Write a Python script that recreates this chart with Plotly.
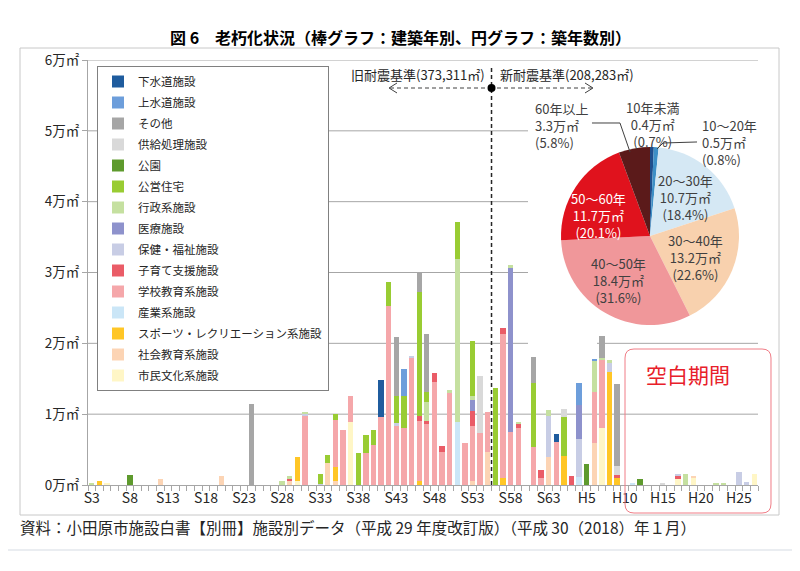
import plotly.graph_objects as go

# categories: construction year, S3 (1928) .. H27 (2015)
years = [f"S{n}" for n in range(3, 64)] + [f"H{n}" for n in range(1, 28)]
tick_years = years[::5]

# floor area by facility type, unit: 万㎡ (only non-zero years)
shimin = {"S5": 0.02, "S30": 0.06, "S37": 0.89, "H7": 0.80, "H17": 0.09, "H19": 0.11, "H27": 0.155}
shakai = {"S12": 0.08, "S20": 0.13, "S29": 0.06, "S34": 0.31, "S35": 0.06, "S53": 0.05, "S55": 0.47,
          "S63": 0.39, "H6": 0.59, "H19": 0.02}
sports = {"S4": 0.06, "S30": 0.33, "S35": 0.20, "S46": 0.05, "S57": 0.10, "H2": 0.41, "H8": 1.59, "H9": 0.095}
sangyo = {"S51": 0.885, "H4": 0.12, "H11": 0.015}
gakko = {"S31": 0.98, "S35": 0.66, "S36": 0.77, "S37": 0.36, "S39": 0.45, "S40": 0.565, "S41": 0.965,
         "S42": 2.53, "S43": 0.84, "S44": 0.80, "S45": 1.79, "S46": 0.86, "S47": 0.86, "S48": 1.45,
         "S49": 0.47, "S50": 1.295, "S52": 0.60, "S53": 0.78, "S54": 0.73, "S55": 0.565, "S57": 2.03,
         "S58": 0.75, "S59": 0.80, "S61": 0.54, "S62": 0.095, "H1": 0.61, "H6": 0.73, "H7": 0.965}
kosodate = {"S29": 0.03, "S46": 0.07, "S47": 0.04, "S48": 0.135, "S49": 0.08, "S53": 0.22, "S57": 0.09,
            "S59": 0.07, "S62": 0.115, "H3": 0.13, "H9": 0.05, "H17": 0.04}
hoken = {"S31": 0.02, "S33": 0.02, "S43": 0.03, "S45": 0.03, "S63": 0.59, "H4": 0.525, "H8": 0.13,
         "H17": 0.03, "H25": 0.18, "H26": 0.04}
iryo = {"S53": 0.155, "S58": 2.32, "H4": 0.485}
gyosei = {"S3": 0.03, "S28": 0.06, "S29": 0.04, "S31": 0.03, "S47": 0.27, "S50": 0.04, "S51": 2.30,
          "S53": 0.055, "S58": 0.03, "S59": 0.02, "S63": 0.08, "H6": 0.425, "H7": 0.025, "H8": 0.05,
          "H18": 0.155, "H22": 0.02, "H23": 0.02}
koei = {"S33": 0.13, "S34": 0.12, "S35": 0.08, "S38": 0.45, "S39": 0.26, "S40": 0.205, "S42": 0.33,
        "S43": 0.38, "S44": 0.45, "S46": 1.74, "S47": 0.14, "S51": 0.53, "S53": 0.78, "S56": 1.365,
        "S61": 0.895, "H2": 0.555}
koen = {"S8": 0.14, "H5": 0.29, "H12": 0.08}
kyokyu = {"S54": 0.81, "H2": 0.105, "H9": 0.13, "H15": 0.03}
sonota = {"S24": 1.15, "S43": 0.835, "S46": 0.27, "S47": 0.82, "S61": 0.37, "H7": 0.315, "H9": 1.15}
josui = {"S44": 0.39, "H4": 0.305, "H6": 0.035}
gesui = {"S41": 0.515, "H1": 0.105}

# stacking order: bottom -> top
series = [
    ("市民文化系施設", shimin, "#FFF6C6"),
    ("社会教育系施設", shakai, "#FCD4B4"),
    ("スポーツ・レクリエーション系施設", sports, "#FFC626"),
    ("産業系施設", sangyo, "#CBE6F7"),
    ("学校教育系施設", gakko, "#F5A7AA"),
    ("子育て支援施設", kosodate, "#EA5C67"),
    ("保健・福祉施設", hoken, "#C8CDE5"),
    ("医療施設", iryo, "#8E92CC"),
    ("行政系施設", gyosei, "#C5E0A0"),
    ("公営住宅", koei, "#99CC33"),
    ("公園", koen, "#5E9A2D"),
    ("供給処理施設", kyokyu, "#D9D9D9"),
    ("その他", sonota, "#A6A6A6"),
    ("上水道施設", josui, "#6D9EDB"),
    ("下水道施設", gesui, "#1F5C9E"),
]

# pie: by building age
age_labels = ["10年未満", "10～20年", "20～30年", "30～40年", "40～50年", "50～60年", "60年以上"]
age_area = [0.4, 0.5, 10.7, 13.2, 18.4, 11.7, 3.3]
age_pct = [0.7, 0.8, 18.4, 22.6, 31.6, 20.1, 5.8]
age_colors = ["#1F4E8C", "#3D8FC6", "#D5E8F4", "#F8D1AE", "#F0979A", "#E0121D", "#5B1A1A"]

old_total = "旧耐震基準(373,311㎡)"
new_total = "新耐震基準(208,283㎡)"

FONT = "Noto Sans CJK JP"
# page body has an 8px margin, so the figure is 8px smaller and shifted
W, H = 792, 563
L, R, T, B = 80, 42, 52, 86
PW, PH = W - L - R, H - T - B


# screen pixel -> paper coordinates
def px(x):
    return (x - 8 - L) / PW


def py(y):
    return (H - B - (y - 8)) / PH


def P(x, y):
    return f"{px(x):.4f},{py(y):.4f}"


fig = go.Figure()

n = len(series)
for i, (name, d, color) in enumerate(series):
    fig.add_trace(go.Bar(
        x=years, y=[d.get(c, 0) for c in years], name=name,
        marker=dict(color=color, line=dict(width=0)),
        legendgroup=name, legendrank=n - i,
    ))

pie_text = [f"{l}<br>{a}万㎡<br>({p}%)" for l, a, p in zip(age_labels, age_area, age_pct)]
fig.add_trace(go.Pie(
    labels=age_labels, values=age_area, sort=False, direction="clockwise", rotation=0,
    marker=dict(colors=age_colors, line=dict(width=0)),
    textinfo="none",
    domain=dict(x=[px(561), px(739)], y=[py(325), py(147)]),
    showlegend=False, hoverinfo="skip",
))

shapes = []
# horizontal grid lines
grid = [(6, [(88, 758)]), (5, [(88, 528)]), (4, [(88, 528)]), (3, [(88, 528)]),
        (2, [(88, 528), (597, 758)]), (1, [(88, 758)])]
for yv, segs in grid:
    for a, b in segs:
        shapes.append(dict(type="line", xref="paper", yref="y", x0=px(a), x1=px(b), y0=yv, y1=yv,
                           line=dict(color="#A6A6A6", width=1), layer="below"))
# old / new seismic code divider
shapes.append(dict(type="line", xref="x", yref="paper", x0=52.5, x1=52.5, y0=0, y1=py(66),
                   line=dict(color="#262626", width=1.5, dash="4px,3px")))
shapes.append(dict(type="circle", xref="x", yref="paper", xsizemode="pixel", ysizemode="pixel",
                   xanchor=52.5, yanchor=py(88), x0=-4, x1=4, y0=-4, y1=4,
                   fillcolor="#000000", line=dict(width=0)))
for a, b in [(390, 487), (497, 592)]:
    shapes.append(dict(type="line", xref="paper", yref="paper", x0=px(a), x1=px(b), y0=py(88), y1=py(88),
                       line=dict(color="#404040", width=1, dash="4px,3px")))
shapes.append(dict(type="path", xref="paper", yref="paper", path=f"M{P(397,83)} L{P(389,88)} L{P(397,93)}",
                   line=dict(color="#404040", width=1)))
shapes.append(dict(type="path", xref="paper", yref="paper", path=f"M{P(585,83)} L{P(593,88)} L{P(585,93)}",
                   line=dict(color="#404040", width=1)))
# pie leader lines
shapes.append(dict(type="path", xref="paper", yref="paper", path=f"M{P(592,123)} L{P(620,123)} L{P(630,152)}",
                   line=dict(color="#404040", width=1)))
shapes.append(dict(type="path", xref="paper", yref="paper", path=f"M{P(697,142)} L{P(663,143)} L{P(657,149)}",
                   line=dict(color="#404040", width=1)))
# blank period rounded box
x0, x1, y0, y1, r = 625, 771, 349, 513, 9
box = (f"M{P(x0+r,y0)} L{P(x1-r,y0)} Q{P(x1,y0)} {P(x1,y0+r)} L{P(x1,y1-r)} Q{P(x1,y1)} {P(x1-r,y1)} "
       f"L{P(x0+r,y1)} Q{P(x0,y1)} {P(x0,y1-r)} L{P(x0,y0+r)} Q{P(x0,y0)} {P(x0+r,y0)} Z")
shapes.append(dict(type="path", xref="paper", yref="paper", path=box, line=dict(color="#F07C86", width=1)))
# outer frame and bottom separator
shapes.append(dict(type="rect", xref="paper", yref="paper", x0=px(20), x1=px(779), y0=py(515), y1=py(48),
                   line=dict(color="#C8C8C8", width=1)))
shapes.append(dict(type="line", xref="paper", yref="paper", x0=px(8), x1=px(800), y0=py(550), y1=py(550),
                   line=dict(color="#D5DBE3", width=1)))

pie_pos = [(652, 124, "center"), (700, 142, "left"), (685, 197, "center"), (695, 257, "center"),
           (618, 280, "center"), (598, 215, "center"), (533, 125, "left")]
pie_col = ["#404040"] * 5 + ["white", "#404040"]

ann = [
    dict(x=px(400), y=py(37), text="<b>図 6　老朽化状況（棒グラフ：建築年別、円グラフ：築年数別）</b>",
         font=dict(size=16, color="#000000"), xanchor="center"),
    dict(x=px(487), y=py(74), text=old_total, font=dict(size=13, color="#262626"), xanchor="right"),
    dict(x=px(498), y=py(74), text=new_total, font=dict(size=13, color="#262626"), xanchor="left"),
    dict(x=px(688), y=py(374), text="空白期間", font=dict(size=21, color="#E8202A"), xanchor="center"),
    dict(x=px(18), y=py(527),
         text="資料：小田原市施設白書【別冊】施設別データ（平成 29 年度改訂版）（平成 30（2018）年１月）",
         font=dict(size=15.5, color="#262626"), xanchor="left"),
]
for (x, y, anc), t, c in zip(pie_pos, pie_text, pie_col):
    ann.append(dict(x=px(x), y=py(y), text=t, font=dict(size=13, color=c), xanchor=anc, align=anc))
for a in ann:
    a.update(xref="paper", yref="paper", showarrow=False, yanchor="middle")

fig.update_layout(
    width=W, height=H, margin=dict(l=L, r=R, t=T, b=B),
    barmode="stack", bargap=0.3,
    paper_bgcolor="white", plot_bgcolor="white",
    font=dict(family=FONT, color="#262626"),
    shapes=shapes, annotations=ann,
    legend=dict(x=px(97), y=py(66), xanchor="left", yanchor="top",
                traceorder="grouped", tracegroupgap=2,
                bgcolor="white", bordercolor="#808080", borderwidth=1,
                font=dict(size=11.5, color="#262626")),
)
fig.update_xaxes(
    type="category", categoryorder="array", categoryarray=years,
    tickvals=years, ticktext=[c if c in tick_years else "" for c in years], tickangle=0,
    tickson="boundaries", ticks="outside", ticklen=5, tickcolor="#A6A6A6",
    showline=True, linecolor="#A6A6A6", showgrid=False,
    tickfont=dict(size=14, color="#262626"), range=[-0.5, len(years) - 0.5],
)
fig.update_yaxes(
    range=[0, 6], tickvals=[0, 1, 2, 3, 4, 5, 6], ticktext=[f"{v}万㎡" for v in range(7)],
    ticks="outside", ticklen=5, tickcolor="#A6A6A6", showline=True, linecolor="#A6A6A6",
    showgrid=False, zeroline=False, tickfont=dict(size=13.5, color="#262626"),
)

fig.write_html("out.html")
